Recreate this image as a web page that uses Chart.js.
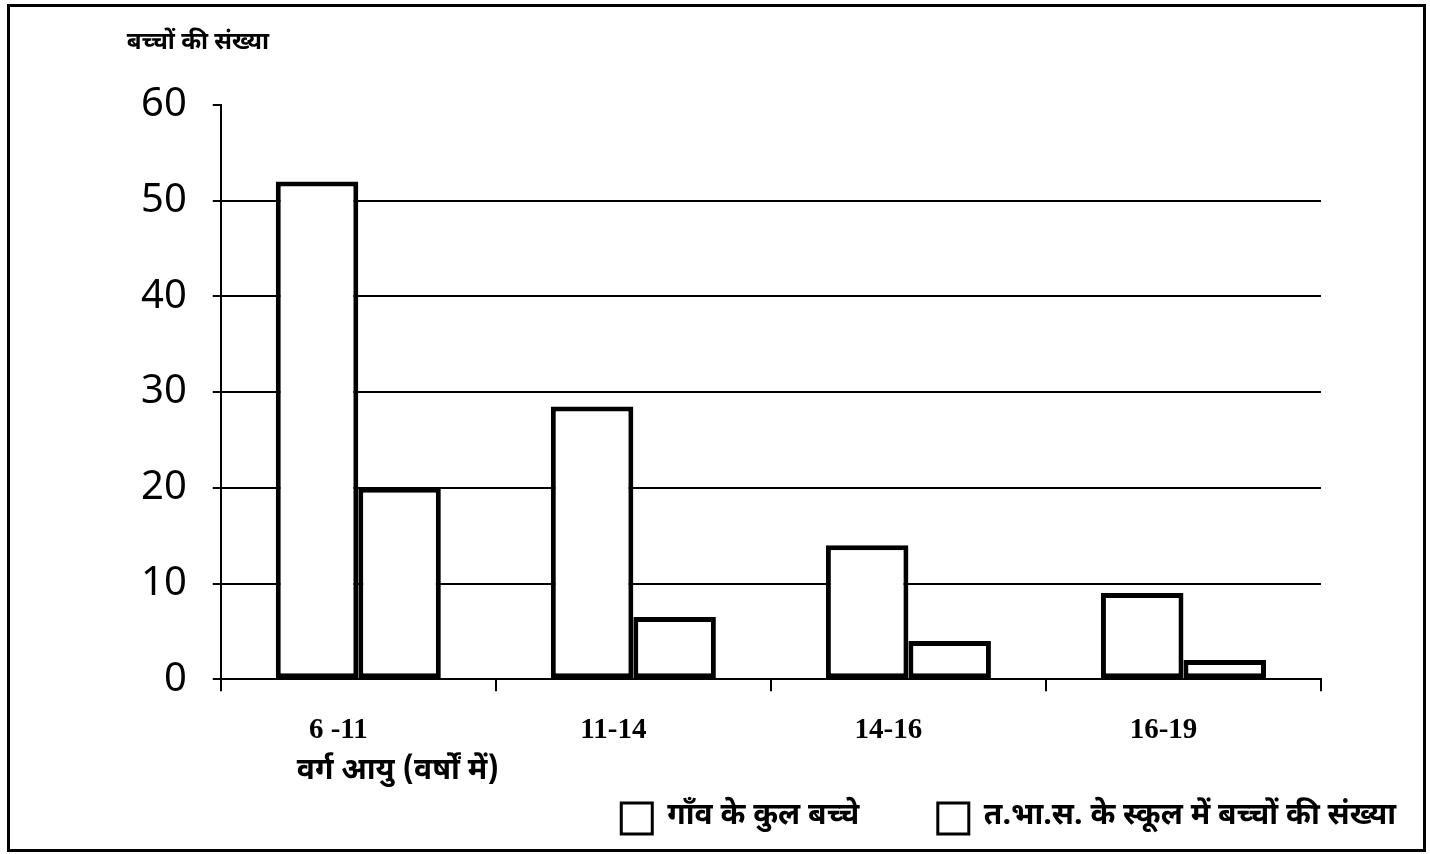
<!DOCTYPE html>
<html>
<head>
<meta charset="utf-8">
<script src="https://cdn.jsdelivr.net/npm/chart.js@4.4.1/dist/chart.umd.min.js"></script>
<style>
  body { margin: 0; background: #fff; }
  #wrap { position: relative; width: 1430px; height: 854px; }
  #frame { position: absolute; left: 7px; top: 4px; width: 1413px; height: 842px; border: 3px solid #000; pointer-events: none; }
</style>
</head>
<body>
<div id="wrap">
  <canvas id="chart" width="1430" height="854"></canvas>
  <div id="frame"></div>
</div>
<script>
// data
const ageGroups = ['6 -11', '11-14', '14-16', '16-19'];
const villageChildren = [52, 28.5, 14, 9];
const schoolChildren = [20, 6.5, 4, 2];
const seriesNames = ['गाँव के कुल बच्चे', 'त.भा.स. के स्कूल में बच्चों की संख्या'];
const yTitle = 'बच्चों की संख्या';
const xTitle = 'वर्ग आयु (वर्षों में)';

const hindiFont = '"Noto Sans Devanagari", "Noto Sans", "Lohit Devanagari", sans-serif';

const titles = {
    id: 'titles',
    afterDraw(chart) {
        const ctx = chart.ctx;
        const area = chart.chartArea;
        ctx.save();
        ctx.fillStyle = '#000';
        ctx.textBaseline = 'middle';
        ctx.textAlign = 'left';
        ctx.font = 'bold 24px ' + hindiFont;
        ctx.fillText(yTitle, area.left - 94, area.top - 60);
        ctx.font = 'bold 30px ' + hindiFont;
        ctx.fillText(xTitle, area.left + 76, area.bottom + 94);
        ctx.restore();
    }
};

const barStyle = {
    backgroundColor: '#ffffff',
    borderColor: '#000000',
    borderWidth: 5,
    borderSkipped: false,
    barPercentage: 1,
    categoryPercentage: 0.6
};

new Chart(document.getElementById('chart'), {
    type: 'bar',
    data: {
        labels: ageGroups,
        datasets: [
            Object.assign({ label: seriesNames[0], data: villageChildren }, barStyle),
            Object.assign({ label: seriesNames[1], data: schoolChildren }, barStyle)
        ]
    },
    options: {
        responsive: false,
        animation: false,
        devicePixelRatio: 1,
        layout: { padding: { top: 105, right: 18, bottom: 10, left: 115 } },
        scales: {
            x: {
                grid: {
                    offset: true,
                    drawOnChartArea: false,
                    color: '#000',
                    lineWidth: 2,
                    tickLength: 12
                },
                border: { display: true, color: '#000', width: 2 },
                ticks: {
                    color: '#000',
                    padding: 22,
                    labelOffset: -20,
                    font: { family: '"Liberation Serif", "Times New Roman", serif', size: 29, weight: 'bold' }
                },
                afterFit(scale) { scale.height += 17; }
            },
            y: {
                min: 0,
                max: 60,
                ticks: {
                    stepSize: 10,
                    color: '#000',
                    padding: 26,
                    font: { family: '"Noto Sans", sans-serif', size: 40 }
                },
                grid: {
                    color: c => (c.tick && c.tick.value === 60) ? 'rgba(0,0,0,0)' : '#000',
                    tickColor: '#000',
                    lineWidth: 2,
                    tickLength: 8
                },
                border: { display: true, color: '#000', width: 2 }
            },
            spacer: {
                position: 'right',
                display: true,
                grid: { display: false },
                border: { display: false },
                ticks: { display: false },
                afterFit(scale) { scale.width = 91; }
            }
        },
        plugins: {
            legend: {
                position: 'bottom',
                align: 'end',
                labels: {
                    color: '#000',
                    boxWidth: 31,
                    boxHeight: 31,
                    padding: 16,
                    font: { family: hindiFont, size: 30, weight: 'bold' },
                    generateLabels(chart) {
                        return chart.data.datasets.map((ds, i) => ({
                            text: i === 0 ? ds.label + '        ' : ds.label,
                            fillStyle: '#ffffff',
                            strokeStyle: '#000000',
                            lineWidth: 3,
                            fontColor: '#000',
                            datasetIndex: i
                        }));
                    }
                }
            },
            tooltip: { enabled: false }
        }
    },
    plugins: [titles]
});
</script>
</body>
</html>
